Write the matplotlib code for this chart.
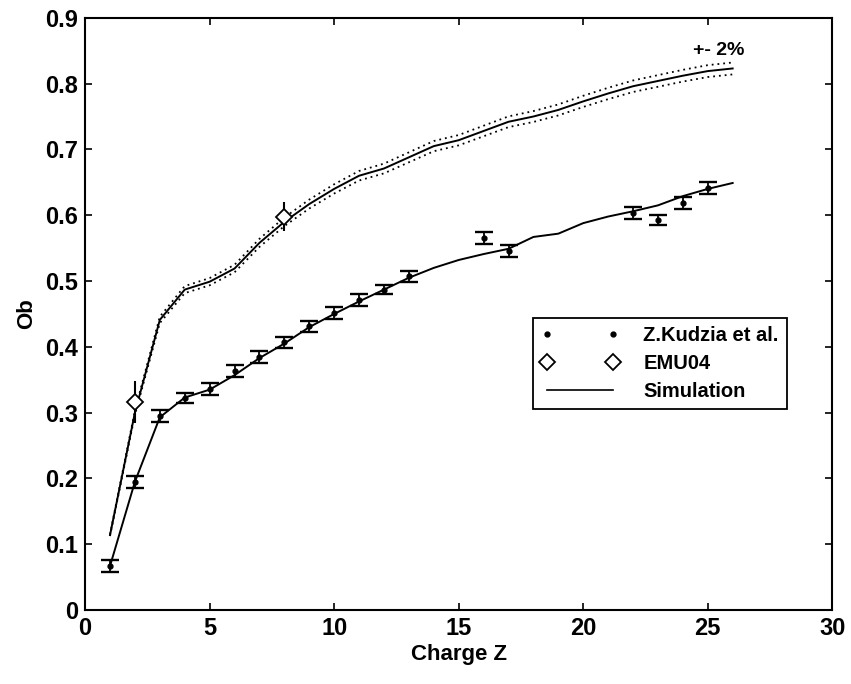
import matplotlib
matplotlib.use("Agg")
import matplotlib.pyplot as plt
from matplotlib.lines import Line2D
import numpy as np

plt.rcParams['font.family'] = ['Liberation Sans', 'DejaVu Sans']
plt.rcParams['font.weight'] = 'bold'

# Z.Kudzia et al. data
kud_z = [1, 2, 3, 4, 5, 6, 7, 8, 9, 10, 11, 12, 13, 16, 17, 22, 23, 24, 25]
kud_ob = [0.067, 0.195, 0.295, 0.322, 0.336, 0.363, 0.385, 0.407, 0.431, 0.451,
          0.471, 0.487, 0.507, 0.566, 0.546, 0.604, 0.593, 0.619, 0.641]
kud_err = [0.009, 0.009, 0.009, 0.008, 0.009, 0.009, 0.009, 0.008, 0.009, 0.009,
           0.009, 0.007, 0.009, 0.009, 0.009, 0.009, 0.008, 0.009, 0.009]

# EMU04 data
emu_z = [2, 8]
emu_ob = [0.316, 0.598]
emu_err = [0.032, 0.022]

# Simulation (lower curve, Kudzia)
sim_low_z = [1, 2, 3, 4, 5, 6, 7, 8, 9, 10, 11, 12, 13, 14, 15, 16, 17, 18, 19,
             20, 21, 22, 23, 24, 25, 26]
sim_low_ob = [0.067, 0.195, 0.293, 0.323, 0.335, 0.357, 0.383, 0.405, 0.430, 0.450,
              0.469, 0.487, 0.505, 0.520, 0.532, 0.541, 0.549, 0.567, 0.572, 0.588,
              0.598, 0.606, 0.615, 0.629, 0.640, 0.649]

# Simulation (upper curve, EMU04)
sim_up_z = [1, 2, 3, 4, 5, 6, 7, 8, 9, 10, 11, 12, 13, 14, 15, 16, 17, 18, 19,
            20, 21, 22, 23, 24, 25, 26]
sim_up_ob = [0.114, 0.300, 0.441, 0.487, 0.499, 0.519, 0.558, 0.590, 0.617, 0.640,
             0.660, 0.671, 0.688, 0.705, 0.714, 0.728, 0.742, 0.750, 0.760, 0.773,
             0.785, 0.796, 0.804, 0.812, 0.819, 0.823]
band = 0.011  # relative half-width of dotted band

fig = plt.figure(figsize=(8.51, 6.84), dpi=100)
ax = fig.add_axes([0.100, 0.108, 0.878, 0.866])

up = np.array(sim_up_ob)
ax.plot(sim_up_z, up, color='black', lw=1.4)
ax.plot(sim_up_z, up * (1 + band), color='black', lw=1.3, ls=(0, (1, 2.2)))
ax.plot(sim_up_z, up * (1 - band), color='black', lw=1.3, ls=(0, (1, 2.2)))
ax.plot(sim_low_z, sim_low_ob, color='black', lw=1.4)

ax.errorbar(kud_z, kud_ob, yerr=kud_err, fmt='.', color='black', ms=7,
            capsize=6.5, elinewidth=1.3, capthick=1.7)
ax.errorbar(emu_z, emu_ob, yerr=emu_err, fmt='D', mfc='white', mec='black',
            ecolor='black', ms=8, mew=1.3, capsize=0, elinewidth=1.5)

ax.text(24.4, 0.843, '+- 2%', fontsize=14, fontweight='bold')

ax.set_xlim(0, 30)
ax.set_ylim(0, 0.9)
ax.set_xticks([0, 5, 10, 15, 20, 25, 30])
ax.set_yticks([0, 0.1, 0.2, 0.3, 0.4, 0.5, 0.6, 0.7, 0.8, 0.9])
ax.set_yticklabels(['0', '0.1', '0.2', '0.3', '0.4', '0.5', '0.6', '0.7', '0.8', '0.9'])
ax.tick_params(direction='in', top=True, right=True, length=5, width=1.2,
               labelsize=17, pad=5)
for s in ax.spines.values():
    s.set_linewidth(1.5)
ax.set_xlabel('Charge Z', fontsize=16, fontweight='bold', labelpad=3)
ax.set_ylabel('Ob', fontsize=16, fontweight='bold', labelpad=6)

handles = [
    Line2D([], [], ls='none', marker='.', color='black', ms=7),
    Line2D([], [], ls='none', marker='D', mfc='white', mec='black', ms=8, mew=1.3),
    Line2D([], [], color='black', lw=1.2),
]
leg = ax.legend(handles, ['Z.Kudzia et al.', 'EMU04', 'Simulation'],
                loc='upper left', bbox_to_anchor=(0.599, 0.493), numpoints=2,
                prop={'weight': 'bold', 'size': 14.5}, frameon=True, fancybox=False,
                edgecolor='black', framealpha=1, handlelength=3.9,
                handletextpad=1.2, labelspacing=0.45, borderpad=0.4,
                borderaxespad=0)
leg.get_frame().set_linewidth(1.3)

fig.savefig('out.png', dpi=100)
